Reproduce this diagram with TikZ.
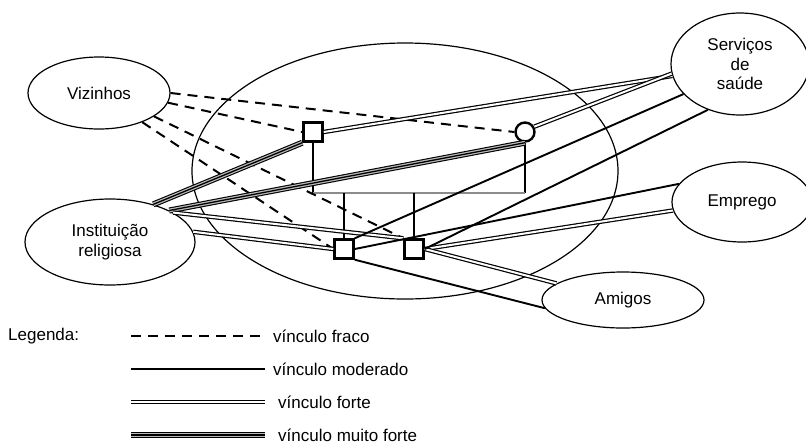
\documentclass[tikz,border=0pt]{standalone}
\usepackage{fontspec}
\setmainfont{Liberation Sans}
\usepackage{tikz}
\usetikzlibrary{positioning,shapes.geometric}
\definecolor{ecogray}{HTML}{8C8C8C}

\begin{document}
\begin{tikzpicture}[x=1pt,y=-1pt,font=\fontsize{17}{19.5}\selectfont,
  grupo/.style={ellipse,draw,line width=1.2pt,inner sep=0pt,align=center},
  homem/.style={rectangle,draw,line width=2.4pt,fill=white,minimum size=19pt,inner sep=0pt},
  mulher/.style={circle,draw,line width=2.4pt,fill=white,minimum size=19pt,inner sep=0pt},
  fraco/.style={line width=2pt,dash pattern=on 10pt off 7pt},
  moderado/.style={line width=1.9pt},
  forte/.style={double,line width=1.2pt,double distance=2pt},
  muitoforte/.style={draw=ecogray!60,line width=3.8pt,preaction={draw=black,line width=6pt},postaction={draw=black,line width=1.3pt}},
  tree/.style={line width=2pt},
  legtxt/.style={anchor=west,inner sep=4pt}]
  \useasboundingbox (0,0) rectangle (806,445);
  % eco-map
  \node[grupo,minimum width=426pt,minimum height=256pt] (eco) at (405,171) {};
  \node[grupo,minimum width=142pt,minimum height=72pt] (viz) at (99,93) {Vizinhos};
  \node[grupo,minimum width=170pt,minimum height=86pt] (inst) at (110,242) {Instituição\\religiosa};
  \node[grupo,minimum width=138pt,minimum height=102pt] (serv) at (740,64) {Serviços\\de\\saúde};
  \node[grupo,minimum width=140pt,minimum height=80pt] (emp) at (742,202) {Emprego};
  \node[grupo,minimum width=162pt,minimum height=56pt] (ami) at (623,300) {Amigos};
  \node[homem] (a) at (313,132) {};
  \node[mulher] (b) at (525,132) {};
  \node[homem] (c) at (344,249) {};
  \node[homem] (d) at (414,249) {};
  % family
  \coordinate (bar) at (0,193);
  \draw[tree] (a.south) -- (a.south |- bar); \draw[tree] (b.south) -- (b.south |- bar);
  \draw[tree,ecogray] (a.south |- bar) -- (b.south |- bar);
  \draw[tree] (c.north) -- (c.north |- bar); \draw[tree] (d.north) -- (d.north |- bar);
  % links
  \draw[fraco] (viz.east) -- (b.west); \draw[fraco] (viz.-8) -- (a.west);
  \draw[fraco] (viz.-23) -- (d.north west); \draw[fraco] (viz.-34) -- (c.west);
  \draw[muitoforte] (inst.41) -- (a.south west); \draw[muitoforte] (inst.28) -- (b.south);
  \draw[forte] (a.east) -- (serv.190); \draw[forte] (b.30) -- (serv.188);
  \draw[forte] (inst.25) -- (d.north west); \draw[forte] (inst.7) -- (c.west);
  \draw[forte] (d.east) -- (emp.187); \draw[forte] (d.east) -- (ami.166);
  \draw[moderado] (c.north east) -- (serv.208); \draw[moderado] (d.east) -- (serv.235);
  \draw[moderado] (c.east) -- (emp.164); \draw[moderado] (c.south east) -- (ami.186);
  % legend
  \node[legtxt] (leg) at (4,336) {Legenda:};
  \node[legtxt] (t1) at (269,336) {vínculo fraco};
  \node[legtxt] (t2) at (269,369) {vínculo moderado};
  \node[legtxt] (t3) at (274,402) {vínculo forte};
  \node[legtxt] (t4) at (274,435) {vínculo muito forte};
  \coordinate (l1) at (131,336); \coordinate (r1) at (265,336);
  \coordinate (l2) at (131,369); \coordinate (r2) at (265,369);
  \coordinate (l3) at (131,402); \coordinate (r3) at (265,402);
  \coordinate (l4) at (131,435); \coordinate (r4) at (265,435);
  \draw[fraco] (l1) -- (r1); \draw[moderado] (l2) -- (r2);
  \draw[forte] (l3) -- (r3); \draw[muitoforte] (l4) -- (r4);
\end{tikzpicture}
\end{document}
